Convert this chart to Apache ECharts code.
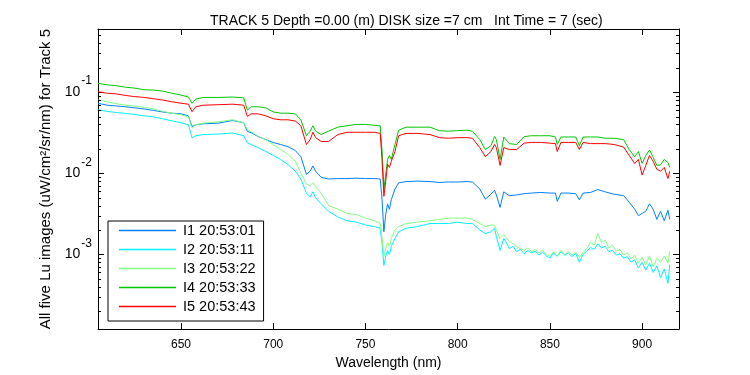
<!DOCTYPE html>
<html>
<head>
<meta charset="utf-8">
<script src="https://cdn.jsdelivr.net/npm/echarts@6/dist/echarts.min.js"></script>
<style>html,body{margin:0;padding:0;background:#fff;}#c{width:750px;height:375px;}</style>
</head>
<body>
<div id="c"></div>
<script>
const wl = [605,610,615,620,625,630,635,640,645,650,654,656,658,662,670,678,684,686,688,692,696,700,704,708,712,715,718,720,721.5,723,726,730,735,740,745,750,755,758,759,760,761,762,763,764,766,768,772,778,785,790,795,800,805,808,812,815,818,820,821,823,825,828,832,836,840,845,850,853,854,856,860,864,866,868,872,876,880,885,890,893,896,898,900,902,904,906,908,910,912,914,915];

// tail wavelengths (denser) used for the noisy I2 / I3 spectra
const wlTail = [826,828,830,832,834,836,838,840,842,844,846,848,850,852,854,856,858,860,862,864,866,868,870,872,874,876,878,880,882,884,886,888,890,892,894,896,898,900,902,904,906,908,910,912,914,915];

const i1 = [0.0728,0.069,0.0675,0.066,0.064,0.062,0.0595,0.057,0.055,0.054,
0.051,0.0377,0.0396,0.0407,0.0414,0.0447,0.042,
0.0328,0.0316,0.0282,0.026,0.0239,0.0226,0.0213,0.019,0.016,0.0097,
0.0106,0.0123,0.0106,0.0089,0.0085,0.0086,0.0086,0.0087,0.0086,0.0086,
0.0085,0.0048,0.0019,0.0031,0.0042,0.0036,0.0047,0.0064,0.0076,0.0079,
0.008,0.0079,0.0077,0.0078,0.0078,0.0079,0.0078,0.0064,0.0048,0.0055,
0.0062,0.0054,0.0038,0.0059,0.0053,0.0054,0.0056,0.0057,0.0058,0.0057,
0.0057,0.0045,0.0057,0.0057,0.0056,0.0047,0.0057,0.0058,0.0063,0.0059,
0.0055,0.0053,0.0044,0.0036,0.003,0.0032,0.0034,0.0042,0.0036,0.0027,
0.0034,0.0026,0.0035,0.0027];

// I2 on wl[0..825]
const i2 = [0.0603,0.058,0.056,0.0547,0.053,0.051,0.0496,0.047,0.0443,0.042,
0.0396,0.0272,0.029,0.030,0.0304,0.0313,0.029,
0.0237,0.0226,0.0206,0.0185,0.0166,0.0148,0.0128,0.0106,0.0085,0.0057,
0.0051,0.0059,0.005,0.0042,0.0034,0.0029,0.0026,0.0025,0.0023,0.0022,
0.0021,0.00136,0.00073,0.00094,0.00112,0.0010,0.00125,0.00157,0.0019,0.0021,
0.0022,0.0024,0.0024,0.0024,0.0025,0.0024,0.0024,0.002,0.0018,0.0019,
0.0021,0.00165,0.00112,0.00157];
const i2Tail = [0.00145,0.00118,0.00125,0.00108,0.00115,0.00102,0.00112,0.00104,0.00110,0.00098,
0.00106,0.00096,0.00090,0.00104,0.00095,0.00108,0.00098,0.00104,0.00094,0.00102,
0.00080,0.00100,0.00110,0.00122,0.00115,0.00135,0.00120,0.00126,0.00108,0.00112,
0.00098,0.00102,0.00090,0.00094,0.00080,0.00086,0.00068,0.00080,0.00064,0.00078,
0.00060,0.00072,0.00052,0.00066,0.00044,0.00075];

// I3 on wl[0..825]
const i3 = [0.080,0.076,0.072,0.069,0.0675,0.065,0.062,0.058,0.055,0.0525,
0.0496,0.036,0.0396,0.0415,0.043,0.0456,0.042,
0.0344,0.0325,0.0285,0.026,0.0226,0.0196,0.0171,0.014,0.0101,0.0074,
0.007,0.0077,0.0068,0.0057,0.004,0.0036,0.0032,0.0031,0.0028,0.0026,
0.0024,0.00157,0.00093,0.00118,0.0014,0.00125,0.00157,0.002,0.0022,0.0024,
0.0025,0.0026,0.0027,0.0028,0.0028,0.0028,0.0027,0.0024,0.0022,0.0023,
0.0023,0.002,0.00157,0.00175];
const i3Tail = [0.0017,0.00145,0.00135,0.00125,0.00118,0.00112,0.00120,0.00108,0.00116,0.00104,
0.00112,0.00100,0.00094,0.00108,0.00096,0.00112,0.00100,0.00108,0.00098,0.00106,
0.00092,0.00106,0.00118,0.00140,0.00130,0.00180,0.00140,0.00150,0.00120,0.00130,
0.00110,0.00115,0.00098,0.00105,0.00088,0.00098,0.00078,0.00092,0.00074,0.00096,
0.00070,0.00090,0.00080,0.00095,0.00078,0.00110];

const i4 = [0.128,0.123,0.120,0.115,0.112,0.107,0.106,0.103,0.097,0.092,
0.087,0.073,0.082,0.086,0.086,0.087,0.085,
0.060,0.066,0.066,0.064,0.057,0.055,0.055,0.054,0.0456,0.029,
0.033,0.0385,0.033,0.030,0.033,0.037,0.0385,0.040,0.040,0.039,
0.0385,0.019,0.0064,0.0097,0.0148,0.0166,0.0148,0.0226,0.034,0.037,
0.037,0.037,0.0335,0.033,0.0335,0.034,0.033,0.026,0.0196,0.0218,
0.0283,0.026,0.0148,0.028,0.0232,0.0226,0.0283,0.029,0.029,0.029,
0.028,0.0226,0.028,0.028,0.028,0.0218,0.028,0.028,0.028,0.027,
0.027,0.026,0.0196,0.016,0.0185,0.0132,0.0166,0.0193,0.0158,0.0125,
0.0127,0.0148,0.0136,0.0118];

const i5 = [0.101,0.097,0.095,0.091,0.088,0.086,0.083,0.080,0.076,0.073,
0.071,0.0575,0.066,0.069,0.070,0.071,0.069,
0.050,0.054,0.054,0.051,0.047,0.0456,0.0456,0.044,0.0385,0.0226,
0.026,0.032,0.0275,0.0246,0.0246,0.030,0.032,0.032,0.032,0.032,
0.031,0.0148,0.0052,0.0080,0.0129,0.0118,0.014,0.0185,0.029,0.031,
0.031,0.030,0.0275,0.027,0.0275,0.0275,0.027,0.0207,0.016,0.0185,
0.0226,0.0207,0.0125,0.0207,0.0196,0.0196,0.0235,0.024,0.024,0.0235,
0.0232,0.0185,0.024,0.024,0.024,0.0196,0.024,0.0232,0.0232,0.0232,
0.0226,0.021,0.0166,0.0132,0.0148,0.0095,0.0125,0.0166,0.014,0.0112,
0.0106,0.0118,0.0086,0.0106];

const seriesNames = ['I1 20:53:01','I2 20:53:11','I3 20:53:22','I4 20:53:33','I5 20:53:43'];
const seriesColors = ['#0080ff','#00f0ff','#80ff80','#00c800','#ff0000'];
const xTicks = [650,700,750,800,850,900];
const xMin = 605, xMax = 920;
const yMin = 1.2e-4, yMax = 0.6;
const yMinorTicks = [];
for (let e = -4; e <= -1; e++) {
  for (let m = 2; m <= 9; m++) {
    const v = m * Math.pow(10, e);
    if (v > yMin && v < yMax) yMinorTicks.push(v);
  }
}

function pairs(xs, ys) { return ys.map((y, j) => [xs[j], y]); }
const seriesData = [
  pairs(wl, i1),
  pairs(wl, i2).concat(pairs(wlTail, i2Tail)),
  pairs(wl, i3).concat(pairs(wlTail, i3Tail)),
  pairs(wl, i4),
  pairs(wl, i5)
];

const FONT = 'Liberation Sans, Arial, sans-serif';
const chart = echarts.init(document.getElementById('c'), null, {renderer: 'canvas'});

const lineSeries = seriesNames.map((n, k) => ({
  name: n,
  type: 'line',
  xAxisIndex: 0, yAxisIndex: 0,
  data: seriesData[k],
  showSymbol: false,
  symbol: 'none',
  lineStyle: {color: seriesColors[k], width: 1},
  itemStyle: {color: seriesColors[k]},
  animation: false,
  silent: true,
  z: 2
}));

function logFmt(v) {
  const l = Math.log10(v);
  if (Math.abs(l - Math.round(l)) < 1e-6) return '{b|10}{s|' + Math.round(l) + '}';
  return '';
}

const option = {
  backgroundColor: '#fff',
  animation: false,
  title: {
    text: 'TRACK 5 Depth =0.00 (m) DISK size =7 cm   Int Time = 7 (sec)',
    left: 205, top: 9,
    textStyle: {fontFamily: FONT, fontSize: 14, fontWeight: 'normal', color: '#000'}
  },
  grid: {left: 98, right: 71, top: 29, bottom: 44, show: false},
  legend: {
    data: seriesNames.map(n => ({name: n, icon: 'path://M0,0H57V1.5H0Z'})),
    orient: 'vertical',
    left: 108, top: 221,
    itemWidth: 57, itemHeight: 14, itemGap: 4,
    padding: [2, 8, 7, 11],
    borderColor: '#000', borderWidth: 1,
    backgroundColor: '#fff',
    textStyle: {fontFamily: FONT, fontSize: 14.5, lineHeight: 14, color: '#000', padding: [0, 0, 0, 2]},
    selectedMode: false
  },
  xAxis: [{
    type: 'value', min: xMin, max: xMax, position: 'bottom',
    name: 'Wavelength (nm)', nameLocation: 'middle', nameGap: 23,
    nameTextStyle: {fontFamily: FONT, fontSize: 14, color: '#000'},
    axisLine: {show: true, onZero: false, lineStyle: {color: '#000', width: 1}},
    axisTick: {show: true, inside: true, length: 6, customValues: xTicks, lineStyle: {color: '#000'}},
    axisLabel: {show: true, customValues: xTicks, margin: 10, fontFamily: FONT, fontSize: 12, color: '#000'},
    splitLine: {show: false}
  }, {
    type: 'value', min: xMin, max: xMax, position: 'top',
    axisLine: {show: true, onZero: false, lineStyle: {color: '#000', width: 1}},
    axisTick: {show: true, inside: true, length: 6, customValues: xTicks, lineStyle: {color: '#000'}},
    axisLabel: {show: false},
    splitLine: {show: false}
  }],
  yAxis: [{
    type: 'log', logBase: 10, min: yMin, max: yMax, position: 'left',
    name: 'All five Lu images (uW/cm\u00B2/sr/nm) for Track 5',
    nameLocation: 'middle', nameGap: 45, nameRotate: 90,
    nameTextStyle: {fontFamily: FONT, fontSize: 15, color: '#000'},
    axisLine: {show: true, onZero: false, lineStyle: {color: '#000', width: 1}},
    axisTick: {show: true, inside: true, length: 6, lineStyle: {color: '#000'}},
    axisLabel: {
      show: true, margin: 6, formatter: logFmt, showMinLabel: false, showMaxLabel: false,
      rich: {
        b: {fontFamily: FONT, fontSize: 14, color: '#000', verticalAlign: 'middle'},
        s: {fontFamily: FONT, fontSize: 12, color: '#000', verticalAlign: 'middle', padding: [0, 0, 22, 1]}
      }
    },
    splitLine: {show: false}
  }, {
    type: 'log', logBase: 10, min: yMin, max: yMax, position: 'right',
    axisLine: {show: true, onZero: false, lineStyle: {color: '#000', width: 1}},
    axisTick: {show: true, inside: true, length: 6, lineStyle: {color: '#000'}},
    axisLabel: {show: false},
    splitLine: {show: false}
  }],
  series: lineSeries.concat([{
    type: 'custom',
    name: 'minorTicks',
    xAxisIndex: 0, yAxisIndex: 0,
    silent: true,
    z: 5,
    clip: false,
    data: yMinorTicks.map(v => [xMin, v]),
    renderItem: function (params, api) {
      const cs = params.coordSys;
      const y = Math.round(api.coord([xMin, api.value(1)])[1]) + 0.5;
      const x0 = cs.x, x1 = cs.x + cs.width;
      const st = {stroke: '#000', lineWidth: 1};
      return {
        type: 'group',
        children: [
          {type: 'line', shape: {x1: x0, y1: y, x2: x0 + 3, y2: y}, style: st},
          {type: 'line', shape: {x1: x1 - 3, y1: y, x2: x1, y2: y}, style: st}
        ]
      };
    }
  }])
};

chart.setOption(option);
</script>
</body>
</html>
